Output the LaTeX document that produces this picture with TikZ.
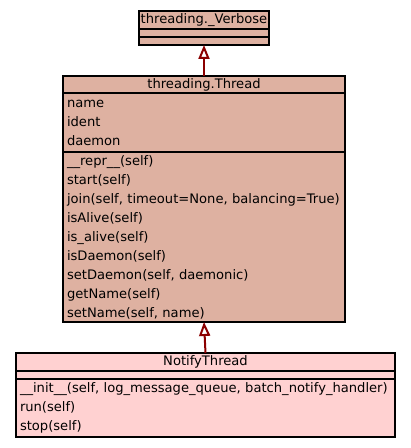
\documentclass[tikz,border=0pt]{standalone}
\usepackage{fontspec}
\setmainfont{DejaVu Sans}
\usetikzlibrary{arrows.meta, positioning}
\definecolor{classFill}{RGB}{222,177,161}
\definecolor{notifyFill}{RGB}{255,209,209}
\definecolor{inheritRed}{RGB}{139,0,0}

\begin{document}
\begin{tikzpicture}[x=1pt, y=1pt,
    box/.style={rectangle, draw=black, line width=1.2pt, outer sep=0pt, inner xsep=4pt,
                inner ysep=0pt, font=\fontsize{13.1}{19}\selectfont},
    head/.style={box, align=center, inner xsep=1pt},
    body/.style={box, align=left},
    inherit/.style={-{Triangle[open, fill=white, length=14pt, width=11pt]}, line width=2pt, inheritRed}
]
    \useasboundingbox (0,0) rectangle (411,448);

    % threading._Verbose
    \node[head, fill=classFill, minimum width=130pt, minimum height=18pt, anchor=north] (verbose) at (204,437) {threading.\_Verbose};
    \node[body, fill=classFill, text width=122pt, minimum height=8pt, below=0pt of verbose] (verboseattr) {};
    \node[body, fill=classFill, text width=122pt, minimum height=8pt, below=0pt of verboseattr] (verbosemeth) {};

    % threading.Thread
    \node[head, fill=classFill, minimum width=282pt, minimum height=17pt, anchor=north] (thread) at (204,372) {threading.Thread};
    \node[body, fill=classFill, text width=274pt, minimum height=59pt, below=0pt of thread] (threadattr)
        {name\\ident\\daemon};
    \node[body, fill=classFill, text width=274pt, minimum height=170pt, below=0pt of threadattr] (threadmeth)
        {\_\_repr\_\_(self)\\start(self)\\join(self, timeout=None, balancing=True)\\isAlive(self)\\is\_alive(self)\\isDaemon(self)\\setDaemon(self, daemonic)\\getName(self)\\setName(self, name)};

    % NotifyThread
    \node[head, fill=notifyFill, minimum width=379pt, minimum height=18pt, anchor=north] (notify) at (205.5,95) {NotifyThread};
    \node[body, fill=notifyFill, text width=371pt, minimum height=8pt, below=0pt of notify] (notifyattr) {};
    \node[body, fill=notifyFill, text width=371pt, minimum height=58pt, below=0pt of notifyattr] (notifymeth)
        {\_\_init\_\_(self, log\_message\_queue, batch\_notify\_handler)\\run(self)\\stop(self)};

    % inheritance
    \draw[inherit] (thread.north) -- (verbosemeth.south);
    \draw[inherit] (notify.north) -- (threadmeth.south);
\end{tikzpicture}
\end{document}
